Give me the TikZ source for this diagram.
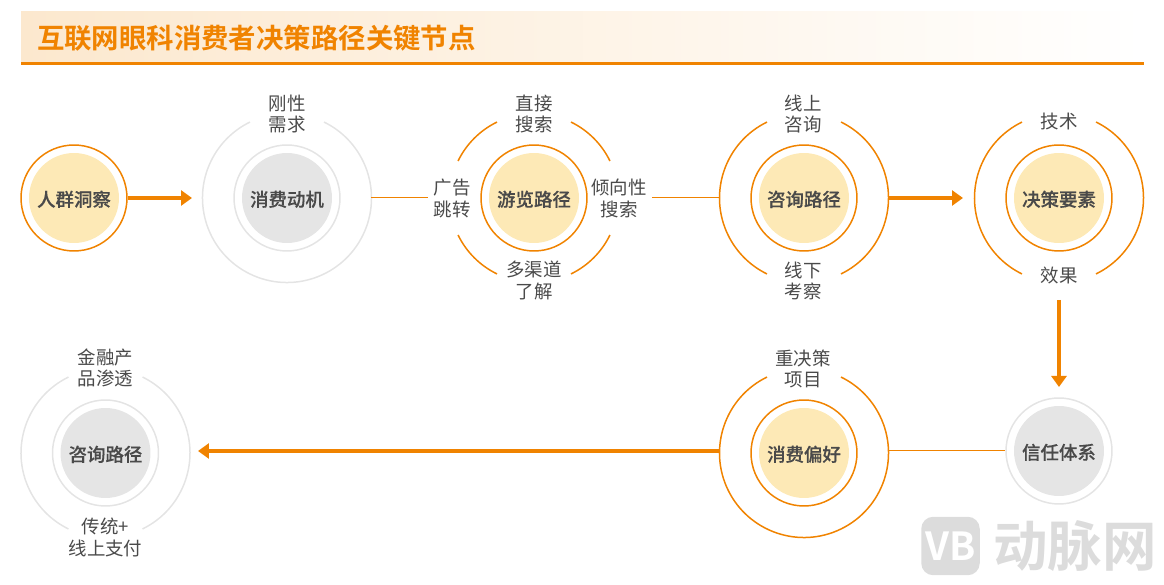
\documentclass[tikz,border=0pt]{standalone}
\usepackage{fontspec}
\setmainfont{Noto Sans CJK SC}[BoldFont={Noto Sans CJK SC Bold}]
\newfontfamily\mediumfont{Noto Sans CJK SC Medium}[FakeBold=0.35]
\usepackage{xcolor}
\usetikzlibrary{arrows.meta,positioning,shapes.geometric}
\definecolor{dmorange}{HTML}{F08300}
\definecolor{dmcream}{HTML}{FDE9B6}
\definecolor{dmgray}{HTML}{E5E5E5}
\definecolor{dmring}{HTML}{E4E4E4}
\definecolor{dmtext}{HTML}{4A4A4A}
\definecolor{dmband}{HTML}{FCE8CE}
\definecolor{dmmark}{HTML}{DCDCDC}
\begin{document}
\begin{tikzpicture}[
    x=0.02cm, y=0.02cm,
    hotcore/.style={circle, fill=dmcream, minimum size=1.8cm, inner sep=0pt, text=dmtext, text height=10.5pt, text depth=1pt, font=\fontsize{10.5pt}{12pt}\mediumfont},
    coldcore/.style={circle, fill=dmgray, minimum size=1.8cm, inner sep=0pt, text=dmtext, text height=10.5pt, text depth=1pt, font=\fontsize{10.5pt}{12pt}\mediumfont},
    hotring/.style={circle, draw=dmorange, line width=0.03cm, minimum size=2.12cm, inner sep=0pt},
    coldring/.style={circle, draw=dmring, line width=0.03cm, minimum size=2.12cm, inner sep=0pt},
    outerbox/.style={circle, minimum size=3.38cm, inner sep=0pt, outer sep=0pt},
    hotarc/.style={dmorange, line width=0.03cm},
    coldarc/.style={dmring, line width=0.03cm},
    tag/.style={align=center, text=dmtext, inner sep=0.1cm, yshift=-0.01cm, font=\fontsize{10.5pt}{12pt}\selectfont},
    thinlink/.style={dmorange, line width=0.02cm},
    bigarrow/.style={-{Triangle[length=0.22cm, width=0.3cm]}, dmorange, line width=0.07cm}
]
    \useasboundingbox (0,0) rectangle (1164,585);

    % Title
    \node[minimum width=22.46cm, minimum height=1cm, inner sep=0pt, left color=dmband, right color=white, shading angle=90] (band) at (582.5,548) {};
    \fill[dmorange] (band.south west) rectangle ++(1123,-3);
    \node[right=0.32cm of band.west, yshift=-0.03cm, inner sep=0pt, text=dmorange, font=\fontsize{15.6pt}{18pt}\selectfont\bfseries] (title) {互联网眼科消费者决策路径关键节点};

    % Top row
    \node[hotcore] (crowd) at (74,387) {人群洞察};
    \node[hotring] (crowdr) at (crowd) {};

    \node[coldcore] (motive) at (287,387) {消费动机};
    \node[coldring] (motiver) at (motive) {};
    \node[outerbox] (motiveo) at (motive) {};
    \draw[coldarc] (motiveo.64) arc[start angle=64, end angle=-244, radius=84.5];
    \node[tag] at (287,471.5) (motivet) {刚性\\需求};

    \node[hotcore] (browse) at (534,387) {游览路径};
    \node[hotring] (browser) at (browse) {};
    \node[outerbox] (browseo) at (browse) {};
    \draw[hotarc] (browseo.26) arc[start angle=26, end angle=64, radius=84.5];
    \draw[hotarc] (browseo.116) arc[start angle=116, end angle=154, radius=84.5];
    \draw[hotarc] (browseo.206) arc[start angle=206, end angle=244, radius=84.5];
    \draw[hotarc] (browseo.296) arc[start angle=296, end angle=334, radius=84.5];
    \node[tag] at (534,471.5) (browset) {直接\\搜索};
    \node[tag] at (534,305) (browseb) {多渠道\\了解};
    \node[tag] at (452,387) (browsel) {广告\\跳转};
    \node[tag] at (619,387) (browsee) {倾向性\\搜索};

    \node[hotcore] (consult) at (804,387) {咨询路径};
    \node[hotring] (consultr) at (consult) {};
    \node[outerbox] (consulto) at (consult) {};
    \draw[hotarc] (consulto.116) arc[start angle=116, end angle=244, radius=84.5];
    \draw[hotarc] (consulto.-64) arc[start angle=-64, end angle=64, radius=84.5];
    \node[tag] at (803,471.5) (consultt) {线上\\咨询};
    \node[tag] at (803,305) (consultb) {线下\\考察};

    \node[hotcore] (factor) at (1059,387) {决策要素};
    \node[hotring] (factorr) at (factor) {};
    \node[outerbox] (factoro) at (factor) {};
    \draw[hotarc] (factoro.116) arc[start angle=116, end angle=244, radius=84.5];
    \draw[hotarc] (factoro.-64) arc[start angle=-64, end angle=64, radius=84.5];
    \node[tag] at (1059,464) (factort) {技术};
    \node[tag] at (1059,310) (factorb) {效果};

    % Bottom row
    \node[coldcore] (trust) at (1059,134) {信任体系};
    \node[coldring] (trustr) at (trust) {};

    \node[hotcore] (prefer) at (804,132) {消费偏好};
    \node[hotring] (preferr) at (prefer) {};
    \node[outerbox] (prefero) at (prefer) {};
    \draw[hotarc] (prefero.116) arc[start angle=116, end angle=424, radius=84.5];
    \node[tag] at (803,217) (prefert) {重决策\\项目};

    \node[coldcore] (finance) at (105.5,132) {咨询路径};
    \node[coldring] (financer) at (finance) {};
    \node[outerbox] (financeo) at (finance) {};
    \draw[coldarc] (financeo.116) arc[start angle=116, end angle=244, radius=84.5];
    \draw[coldarc] (financeo.-64) arc[start angle=-64, end angle=64, radius=84.5];
    \node[tag] at (105.5,217.5) (financet) {金融产\\品渗透};
    \node[tag] at (105.5,48) (financeb) {传统+\\线上支付};

    % Thin links
    \draw[thinlink] (motiveo.east) -- (browsel.west |- motiveo.east);
    \draw[thinlink] (browsee.east |- consulto.west) -- (consulto.west);
    \draw[thinlink] (prefero.east |- trustr.west) -- (trustr.west);

    % Thick arrows
    \coordinate (a1end) at (192,387);
    \coordinate (a2end) at (963,387);
    \coordinate (a3start) at (1059,285);
    \coordinate (a3end) at (1059,198);
    \coordinate (a4start) at (719,134);
    \coordinate (a4end) at (198,134);
    \draw[bigarrow] (crowdr.east) -- (a1end);
    \draw[bigarrow] (consulto.east) -- (a2end);
    \draw[bigarrow] (a3start) -- (a3end);
    \draw[bigarrow] (a4start) -- (a4end);

    % Watermark
    \node[fill=dmmark, rounded corners=0.24cm, minimum size=1.17cm, inner sep=0pt, text=white, font=\fontsize{22pt}{22pt}\selectfont\bfseries] (logo) at (950.5,39) {VB};
    \node[right=0.26cm of logo.east, inner sep=0pt, text=dmmark, font=\fontsize{31pt}{32pt}\selectfont\bfseries] (mark) {动脉网};
\end{tikzpicture}
\end{document}
